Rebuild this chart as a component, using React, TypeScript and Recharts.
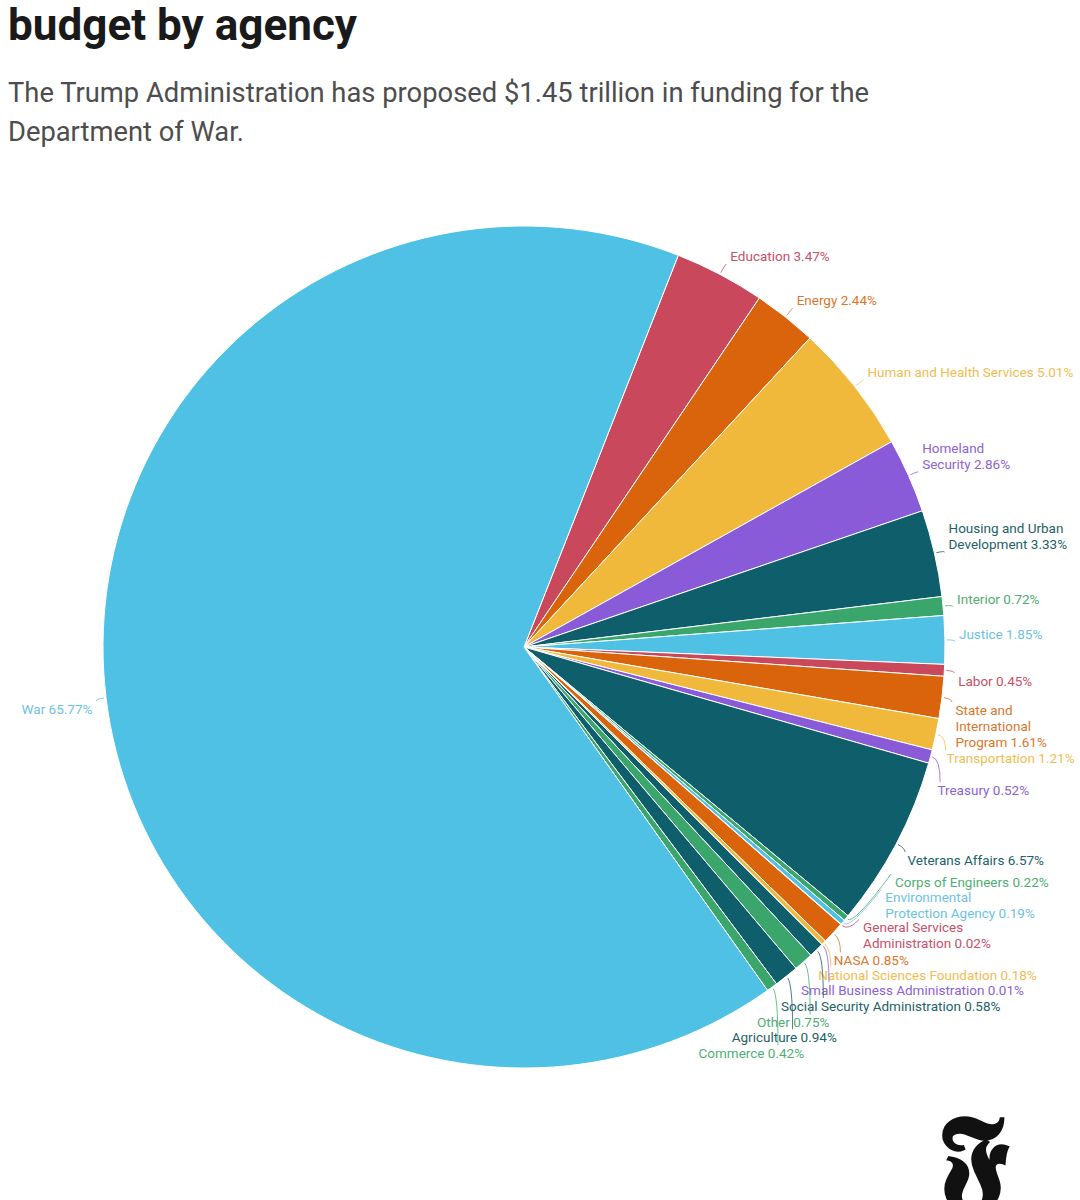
import React from 'react';
import { PieChart, Pie, Cell } from 'recharts';

// share of the proposed budget, in percent, in the order the slices are drawn (clockwise)
const agencies = [
  'Education',
  'Energy',
  'Human and Health Services',
  'Homeland Security',
  'Housing and Urban Development',
  'Interior',
  'Justice',
  'Labor',
  'State and International Program',
  'Transportation',
  'Treasury',
  'Veterans Affairs',
  'Corps of Engineers',
  'Environmental Protection Agency',
  'General Services Administration',
  'NASA',
  'National Sciences Foundation',
  'Small Business Administration',
  'Social Security Administration',
  'Other',
  'Agriculture',
  'Commerce',
  'War',
];

const shares = [
  3.47, 2.44, 5.01, 2.86, 3.33, 0.72, 1.85, 0.45, 1.61, 1.21, 0.52, 6.57,
  0.22, 0.19, 0.02, 0.85, 0.18, 0.01, 0.58, 0.75, 0.94, 0.42, 65.77,
];

// how the label text wraps (last line gets the percentage)
const labelLines = [
  ['Education'],
  ['Energy'],
  ['Human and Health Services'],
  ['Homeland', 'Security'],
  ['Housing and Urban', 'Development'],
  ['Interior'],
  ['Justice'],
  ['Labor'],
  ['State and', 'International', 'Program'],
  ['Transportation'],
  ['Treasury'],
  ['Veterans Affairs'],
  ['Corps of Engineers'],
  ['Environmental', 'Protection Agency'],
  ['General Services', 'Administration'],
  ['NASA'],
  ['National Sciences Foundation'],
  ['Small Business Administration'],
  ['Social Security Administration'],
  ['Other'],
  ['Agriculture'],
  ['Commerce'],
  ['War'],
];

const data = agencies.map((name, i) => ({ name, value: shares[i] }));

const C = {
  blue: '#4fc1e5',
  red: '#c9485b',
  orange: '#d9640c',
  yellow: '#f1b93c',
  purple: '#8a5bd8',
  teal: '#0e5e6b',
  green: '#3ba66b',
};

const colors = [
  C.red, C.orange, C.yellow, C.purple, C.teal, C.green, C.blue, C.red,
  C.orange, C.yellow, C.purple, C.teal, C.green, C.blue, C.red, C.orange,
  C.yellow, C.purple, C.teal, C.green, C.teal, C.green, C.blue,
];

// label text is a softer version of the slice colour
const textColor: Record<string, string> = {
  [C.blue]: '#6cc3e2',
  [C.red]: '#c8506a',
  [C.orange]: '#d9772e',
  [C.yellow]: '#efbd52',
  [C.purple]: '#8c62d6',
  [C.teal]: '#235f68',
  [C.green]: '#4fae74',
};

// vertical nudges (px) so the crowded labels don't overlap
const labelNudge = [
  0, 0, 0, 0, 0, 0, 0, 0, 1, 11, 20, 0, -55, -44, -16, 8, 13, 26, 36, 40, 40, 45, 0,
];

const CX = 524;
const CY = 647;
const R = 421;
const LABEL_R = 435;
const LINE = 16;
const RAD = Math.PI / 180;
const START = 90 - 21.5; // Education starts 21.5 deg clockwise from 12 o'clock

const renderLabel = (props: any) => {
  const { cx, cy, midAngle, outerRadius, index } = props;
  const cos = Math.cos(-midAngle * RAD);
  const sin = Math.sin(-midAngle * RAD);
  const py = cy + LABEL_R * sin;
  const upper = py < cy;
  const right = cos >= 0;
  const lines = labelLines[index];
  const n = lines.length;
  const first =
    (upper ? py + 2 - 8 - LINE * (n - 1) : py + 2 + 8) + labelNudge[index];
  const anchorY = upper ? first + LINE * (n - 1) + 8 : first - 8;
  const dx = Math.sqrt(Math.max(0, LABEL_R * LABEL_R - (anchorY - cy) ** 2));
  const tx = right ? cx + dx : cx - dx;
  const p0 = { x: cx + (outerRadius + 2) * cos, y: cy + (outerRadius + 2) * sin };
  const pc = { x: cx + (outerRadius + 10) * cos, y: cy + (outerRadius + 10) * sin };
  const ex = right ? Math.max(tx - 4, pc.x) : Math.min(tx + 4, pc.x);
  const color = textColor[colors[index]];
  return (
    <g key={`lbl-${index}`}>
      <path
        d={`M${p0.x},${p0.y} Q${pc.x},${pc.y} ${ex},${anchorY}`}
        stroke={color}
        strokeOpacity={0.8}
        fill="none"
        strokeWidth={1}
      />
      <text
        x={tx}
        textAnchor={right ? 'start' : 'end'}
        fill={color}
        fontFamily="Roboto, sans-serif"
        fontSize={13.5}
      >
        {lines.map((l, i) => (
          <tspan key={i} x={tx} y={first + i * LINE} dominantBaseline="central">
            {i === n - 1 ? `${l} ${shares[index].toFixed(2)}%` : l}
          </tspan>
        ))}
      </text>
    </g>
  );
};

export default function App() {
  return (
    <div style={{ position: 'absolute', left: 0, top: 0, width: 1080, height: 1200, background: '#fff', overflow: 'hidden' }}>
      <svg width={1080} height={200} style={{ position: 'absolute', left: 0, top: 0 }}>
        <text x={8} y={40} fontFamily="Roboto, sans-serif" fontWeight={700} fontSize={44} fill="#1a1a1a" textLength={349} lengthAdjust="spacingAndGlyphs">
          budget by agency
        </text>
        <text x={8} y={102} fontFamily="Roboto, sans-serif" fontSize={28} fill="#4d4d4d" textLength={861} lengthAdjust="spacingAndGlyphs">
          The Trump Administration has proposed $1.45 trillion in funding for the
        </text>
        <text x={8} y={141} fontFamily="Roboto, sans-serif" fontSize={28} fill="#4d4d4d" textLength={236} lengthAdjust="spacingAndGlyphs">
          Department of War.
        </text>
      </svg>
      <div style={{ position: 'absolute', left: 0, top: 0 }}>
        <PieChart width={1080} height={1200} margin={{ top: 0, right: 0, bottom: 0, left: 0 }}>
          <Pie
            data={data}
            dataKey="value"
            nameKey="name"
            cx={CX}
            cy={CY}
            outerRadius={R}
            startAngle={START}
            endAngle={START - 360}
            stroke="#ffffff"
            strokeWidth={1}
            label={renderLabel}
            labelLine={false}
            isAnimationActive={false}
          >
            {data.map((d, i) => (
              <Cell key={d.name} fill={colors[i]} />
            ))}
          </Pie>
        </PieChart>
      </div>
      <svg width={160} height={90} style={{ position: 'absolute', left: 920, top: 1110 }}>
        <text x={20} y={84} fontFamily="DejaVu Serif, serif" fontWeight={700} fontSize={112} fill="#111">
          𝕱
        </text>
      </svg>
    </div>
  );
}
